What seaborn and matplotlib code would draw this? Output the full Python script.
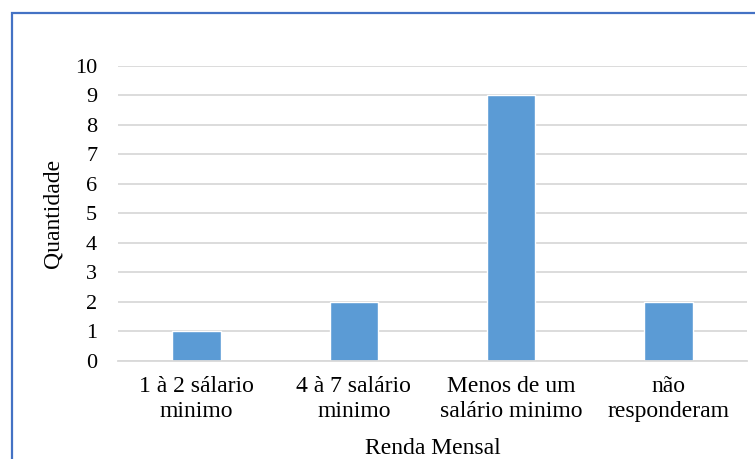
import matplotlib
matplotlib.use("Agg")
import matplotlib.pyplot as plt
import seaborn as sns
from matplotlib.patches import Rectangle

# Data
categorias = ["1 à 2 sálario\nminimo", "4 à 7 salário\nminimo",
              "Menos de um\nsalário minimo", "não\nresponderam"]
quantidade = [1, 2, 9, 2]
y_ticks = list(range(0, 11))

sns.set_theme(style="white")
plt.rcParams["font.family"] = ["Liberation Serif", "DejaVu Serif"]

fig = plt.figure(figsize=(7.55, 4.59), dpi=100)
ax = fig.add_axes([118 / 755, 1 - 360.7 / 459, 629 / 755, 295 / 459])

sns.barplot(x=categorias, y=quantidade, color="#5B9BD5", saturation=1,
            width=0.31, ax=ax)

ax.set_ylim(0, 10)
ax.set_yticks(y_ticks)
ax.yaxis.grid(True, color="#D9D9D9", linewidth=1.3)
ax.set_axisbelow(True)
for s in ["top", "right", "left"]:
    ax.spines[s].set_visible(False)
ax.spines["bottom"].set_color("#D9D9D9")
ax.spines["bottom"].set_linewidth(1.3)

ax.tick_params(axis="y", length=0, pad=15, labelsize=16, colors="black")
ax.tick_params(axis="x", length=0, pad=11, labelsize=17, colors="black")
for t in ax.get_xticklabels():
    t.set_linespacing(1.25)

ax.set_xlabel("Renda Mensal", fontsize=17, color="black")
ax.set_ylabel("Quantidade", fontsize=17, color="black")
ax.yaxis.set_label_coords(-0.087, 0.5)
ax.xaxis.set_label_coords(0.5, -0.262)

# frame of the embedded chart (cropped at right and bottom)
fig.patches.append(Rectangle((11.5 / 755, -0.1), 1.2, (459 - 13) / 459 + 0.1,
                             transform=fig.transFigure, fill=False,
                             edgecolor="#4472C4", linewidth=1.6))

fig.savefig("out.png", dpi=100)
